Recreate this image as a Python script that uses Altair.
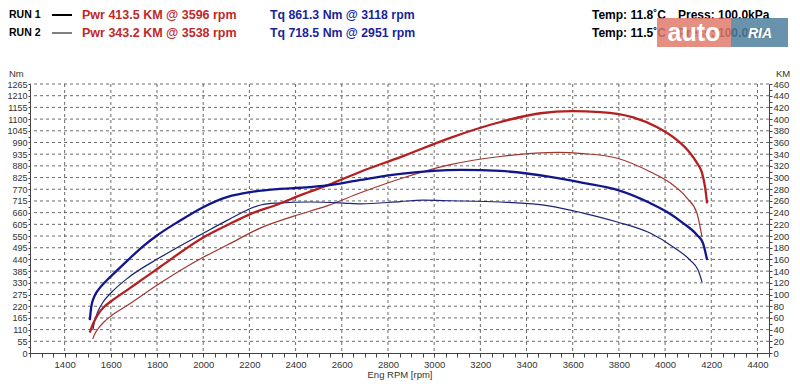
import altair as alt
import pandas as pd

# ---------------- data ----------------
# RUN 1 torque (Nm)
rpm_tq1 = [1509, 1515, 1527, 1548, 1570, 1600, 1674, 1743, 1803, 1890, 2002, 2106, 2206, 2322, 2422,
           2539, 2681, 2854, 3118, 3287, 3503, 3645, 3793, 3935, 4009, 4078, 4138, 4164, 4182]
tq1 = [155, 215, 262, 300, 328, 360, 437, 505, 555, 616, 687, 734, 757, 771, 777,
       788, 814, 842, 861, 856, 828, 800, 767, 705, 663, 611, 555, 517, 437]

# RUN 1 power (KM)
rpm_pw1 = [1509, 1521, 1543, 1571, 1600, 1672, 1744, 1816, 2002, 2106, 2206, 2322, 2422, 2539, 2681,
           2854, 3070, 3287, 3460, 3596, 3719, 3793, 3862, 3966, 4052, 4108, 4138, 4160, 4173, 4182]
pw1 = [35, 48, 65, 79, 88, 108, 128, 148, 198, 219, 238, 254, 270, 287, 310,
       335, 368, 395, 410, 413.5, 412, 409, 403, 386, 364, 342, 325, 308, 284, 256]

# RUN 2 torque (Nm)
rpm_tq2 = [1522, 1530, 1544, 1570, 1600, 1674, 1816, 2002, 2106, 2249, 2322, 2465, 2608, 2681, 2854,
           2951, 3070, 3287, 3503, 3645, 3793, 3935, 4035, 4108, 4143, 4160]
tq2 = [108, 150, 195, 245, 282, 353, 451, 564, 625, 696, 705, 710, 705, 701, 712,
       718.5, 716, 710, 691, 658, 616, 564, 499, 437, 390, 334]

# RUN 2 power (KM)
rpm_pw2 = [1522, 1530, 1544, 1570, 1600, 1674, 1816, 2002, 2106, 2249, 2392, 2539, 2681, 2854, 3070,
           3287, 3538, 3645, 3793, 3935, 4022, 4095, 4138, 4160]
pw2 = [24, 32, 41, 53, 63, 82, 120, 164, 185, 214, 234, 252, 274, 298, 322,
       336, 343.2, 341, 333, 310, 291, 265, 239, 198]

# axis ticks
x_major = list(range(1400, 4401, 200))
x_minor = list(range(1250, 4451, 50))
nm_major = [55 * i for i in range(1, 24)]
nm_ticks = [27.5 * i for i in range(0, 47)]
km_ticks = [10 * i for i in range(0, 47)]

# header texts
run1_label = "RUN 1"
run2_label = "RUN 2"
pwr1_text = "Pwr  413.5 KM @ 3596 rpm"
pwr2_text = "Pwr  343.2 KM @ 3538 rpm"
tq1_text = "Tq 861.3 Nm @ 3118 rpm"
tq2_text = "Tq 718.5 Nm @ 2951 rpm"
temp1_text = "Temp: 11.8˚C"
temp2_text = "Temp: 11.5˚C"
press1_text = "Press: 100.0kPa"
press2_text = "Press: 100.0kPa"

# ---------------- chart ----------------
W, H = 739, 269
FONT = "Liberation Sans"

xs = alt.Scale(domain=[1250, 4450], nice=False, zero=False)
nm_scale = alt.Scale(domain=[0, 1265], nice=False, zero=True)
km_scale = alt.Scale(domain=[0, 460], nice=False, zero=True)

x_axis = alt.Axis(values=x_minor, format="d", title=None, grid=False,
                  labelExpr="datum.value % 200 == 0 && datum.value >= 1400 && datum.value <= 4400 ? datum.label : ''",
                  labelOverlap=False, labelFlush=False, tickSize=4, labelPadding=2,
                  labelFont=FONT, labelFontSize=9.5, labelColor="#333",
                  domainColor="#444", tickColor="#444")

left_axis = alt.Axis(orient="left", values=nm_ticks, format="d", title=None, grid=False,
                     labelExpr="datum.value % 55 == 0 ? datum.label : ''",
                     labelOverlap=False, labelFlush=False, tickSize=2, labelPadding=1,
                     labelFont=FONT, labelFontSize=9, labelColor="#333",
                     domainColor="#444", tickColor="#444")

right_axis = alt.Axis(orient="right", values=km_ticks, format="d", title=None, grid=False,
                      labelExpr="datum.value % 20 == 0 ? datum.label : ''",
                      labelOverlap=False, labelFlush=False, tickSize=3, labelPadding=1,
                      labelFont=FONT, labelFontSize=9.5, labelColor="#333",
                      domainColor="#444", tickColor="#444")


def xenc():
    return alt.X("rpm:Q", scale=xs, axis=x_axis)


one = alt.Data(values=[{"k": 1}])

# grid
hgrid = alt.Chart(pd.DataFrame({"nm": nm_major})).mark_rule(
    color="#444", strokeDash=[3, 3], strokeWidth=0.8
).encode(y=alt.Y("nm:Q", scale=nm_scale, axis=None))

vgrid = alt.Chart(pd.DataFrame({"rpm": x_major})).mark_rule(
    color="#444", strokeDash=[3, 3], strokeWidth=0.8
).encode(x=xenc())

# curves
df_tq1 = pd.DataFrame({"rpm": rpm_tq1, "v": tq1})
df_tq2 = pd.DataFrame({"rpm": rpm_tq2, "v": tq2})
df_pw1 = pd.DataFrame({"rpm": rpm_pw1, "v": pw1})
df_pw2 = pd.DataFrame({"rpm": rpm_pw2, "v": pw2})

line_pw2 = alt.Chart(df_pw2).mark_line(color="#a3352d", strokeWidth=1.2, interpolate="monotone").encode(
    x=xenc(), y=alt.Y("v:Q", scale=km_scale, axis=None))
line_tq2 = alt.Chart(df_tq2).mark_line(color="#1c2478", strokeWidth=1.2, interpolate="monotone").encode(
    x=xenc(), y=alt.Y("v:Q", scale=nm_scale, axis=None))
line_pw1 = alt.Chart(df_pw1).mark_line(color="#b51f1f", strokeWidth=2.3, interpolate="monotone").encode(
    x=xenc(), y=alt.Y("v:Q", scale=km_scale, axis=right_axis))
line_tq1 = alt.Chart(df_tq1).mark_line(color="#12168e", strokeWidth=2.3, interpolate="monotone").encode(
    x=xenc(), y=alt.Y("v:Q", scale=nm_scale, axis=left_axis))


def label(txt, x, y, color="#000", size=12, bold=True, align="left", font=FONT, italic=False):
    return alt.Chart(one).mark_text(
        text=txt, align=align, baseline="middle", font=font, fontSize=size,
        fontWeight="bold" if bold else "normal", fontStyle="italic" if italic else "normal",
        color=color
    ).encode(x=alt.value(x), y=alt.value(y))


def seg(x1, x2, y, w, color="#000"):
    return alt.Chart(one).mark_rule(color=color, strokeWidth=w).encode(
        x=alt.value(x1), x2=alt.value(x2), y=alt.value(y))


def box(x1, x2, y1, y2, color, opacity=1.0):
    return alt.Chart(one).mark_rect(color=color, opacity=opacity).encode(
        x=alt.value(x1), x2=alt.value(x2), y=alt.value(y1), y2=alt.value(y2))


RED = "#c0282a"
BLUE = "#1a1f9c"
R1, R2 = -69, -51
OX = -30  # offset from plot left to page x=0

header = [
    label(run1_label, 9 + OX, R1, size=10.5),
    seg(52 + OX, 72 + OX, R1, 2),
    label(pwr1_text, 82 + OX, R1, color=RED, size=12.5),
    label(tq1_text, 270 + OX, R1, color=BLUE, size=12.3),
    label(temp1_text, 592 + OX, R1, size=12),
    label(press1_text, 678 + OX, R1, size=12),
    label(run2_label, 9 + OX, R2, size=10.5),
    seg(52 + OX, 72 + OX, R2, 1),
    label(pwr2_text, 82 + OX, R2, color=RED, size=12.5),
    label(tq2_text, 270 + OX, R2, color=BLUE, size=12.3),
    label(temp2_text, 592 + OX, R2, size=12),
    label(press2_text, 678 + OX, R2, size=12),
    # watermark
    box(657 + OX, 731 + OX, -66, -37, "#e07a6c", 0.85),
    box(731 + OX, 788 + OX, -66, -37, "#4f7f9f", 0.85),
    label("auto", 694 + OX, -51, color="#ffffff", size=25, align="center"),
    label("RIA", 760 + OX, -50, color="#ffffff", size=14, align="center", italic=True),
    # axis titles
    label("Nm", 9 + OX, -10, color="#333", size=9.5, bold=False, align="left"),
    label("KM", 783 + OX, -10, color="#333", size=9.5, bold=False, align="center"),
    label("Eng RPM [rpm]", 400 + OX, 291, color="#333", size=9.5, bold=False, align="center"),
    # bottom frame bar
    box(8 + OX, 792 + OX, 298, 305, "#b4b4b4"),
    seg(8 + OX, 792 + OX, 298, 1.2, "#555"),
    seg(8 + OX, 792 + OX, 302, 1, "#777"),
]

chart = alt.layer(
    hgrid, vgrid, line_pw2, line_tq2, line_pw1, line_tq1, *header
).resolve_scale(y="independent").properties(
    width=W, height=H,
    autosize=alt.AutoSizeParams(type="none"),
    padding={"left": 22, "top": 76, "right": 23, "bottom": 28},
    background="white",
).configure_view(stroke=None)

chart.save("out.html", embed_options={"renderer": "svg", "actions": False})
